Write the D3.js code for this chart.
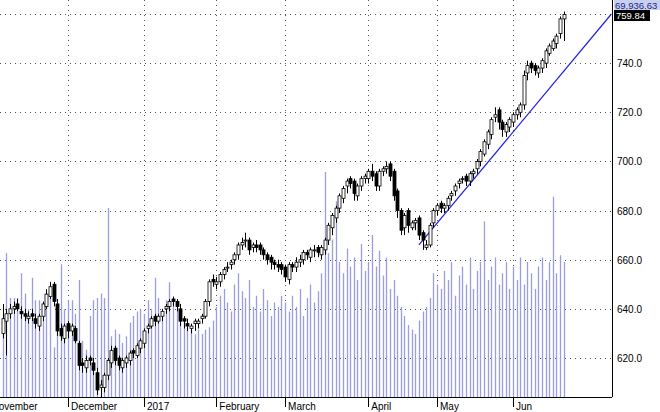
<!DOCTYPE html><html><head><meta charset="utf-8">
<script src="https://cdn.jsdelivr.net/npm/d3@7"></script>
<style>body{margin:0;background:#fff}svg{font-family:Arial,"Liberation Sans",sans-serif}</style></head><body>
<svg id="c" width="660" height="412"></svg>
<script>
const closes=[636,638,640,641,640,638,637,637,637,634,637,642,646,649,643,631,629,633,
631,633,627,617,617,619,619,615,607,609,613,619,623,619,617,619,620,622,622,625,627,
631,633,636,635,637,639,641,643,643,641,635,635,633,633,635,635,637,643,651,651,
651,654,656,657,659,662,666,667,668,664,666,665,664,662,660,659,658,657,656,
653,658,657,659,660,663,662,664,664,663,665,668,674,678,681,686,689,692,691,687,690,693,694,
696,694,690,696,697,698,694,686,680,672,678,674,675,676,670,668,666,674,680,
682,681,682,685,687,690,692,693,692,695,696,700,704,708,712,717,719,716,713,715,717,
719,721,723,735,739,738,737,738,741,745,747,749,751,758,759.84];
const opens=[630,635,638,640,642,639,638,636,638,636,633,637,641,645,650,642,632,628,
634,631,632,626,618,616,620,618,614,608,608,613,618,624,620,616,618,619,623,621,624,
626,632,633,637,635,637,640,641,644,643,640,636,634,632,634,634,636,637,643,652,
650,651,654,657,658,660,662,666,668,668,665,666,666,664,662,661,659,658,658,
657,652,658,657,659,660,663,661,664,665,662,664,668,673,677,681,685,690,693,692,686,690,693,
693,696,695,690,696,697,699,696,688,680,673,680,673,675,677,671,665,666,675,
680,683,681,682,686,688,691,693,694,692,695,697,700,703,707,711,718,721,716,712,714,
716,719,720,723,736,740,739,736,738,740,744,746,748,752,758];
const highs=[642,640,642,643,644,641,640,639,640,638,638,643,648,651,651,644,634,634,
635,634,633,627,620,621,621,620,616,611,614,620,625,625,621,620,621,623,624,626,628,
632,634,637,638,638,640,642,644,645,644,642,637,636,634,636,636,638,644,652,654,
653,655,657,659,660,663,667,669,671,669,667,668,667,665,663,662,660,660,659,
658,659,659,661,662,664,664,665,666,666,666,669,675,679,682,687,690,693,694,693,691,694,695,
697,699,696,697,698,700,700,697,689,681,679,681,676,677,678,672,668,675,681,
683,684,683,686,688,691,693,694,695,696,697,701,705,709,713,718,722,722,717,716,718,
720,722,724,737,741,741,740,739,742,746,748,750,752,759,761];
const lows=[628,621,636,638,639,636,635,634,635,632,631,635,640,644,641,629,627,626,
628,629,626,615,614,614,617,613,605,604,606,611,616,617,615,614,616,617,620,620,622,
624,630,632,633,634,635,638,639,641,639,633,632,631,630,631,632,634,636,641,649,
648,649,652,655,656,658,660,664,665,662,663,663,662,660,658,656,656,655,654,
651,650,655,655,657,658,660,659,661,661,660,662,666,670,675,679,683,687,689,684,684,688,691,
691,692,688,688,694,695,692,684,677,670,670,671,672,672,668,664,664,665,673,
678,679,679,680,684,686,689,691,690,690,693,695,698,702,705,709,716,713,710,710,712,
714,717,718,721,733,736,735,734,736,738,743,745,746,750,749];
const volumes=[30,64,44,44,44,55,46,39,53,43,43,37,44,44,22,34,59,39,
43,43,37,52,25,21,36,43,44,46,44,84,27,30,28,24,27,33,36,38,39,
37,43,39,53,44,37,43,51,44,39,33,36,31,30,28,30,28,30,31,34,
40,45,48,42,38,50,55,47,44,52,40,45,38,48,43,36,42,40,45,
42,38,45,40,48,36,44,50,42,47,55,100,64,70,87,60,55,66,58,62,52,68,56,
60,72,58,65,54,62,48,52,45,40,36,32,30,28,34,38,40,44,55,
50,48,56,52,60,45,54,58,50,62,48,56,60,78,52,58,62,50,55,60,48,
58,52,62,50,60,55,48,58,62,52,60,89,55,63,60];
const monthLabels=["November","December","2017","February","March","April","May","Jun"];
const monthStart=[-4,18,39,59,78,101,120,141];
const priceTicks=[620,640,660,680,700,720,740,760];
const trend=[{i:115,p:666},{i:168.2,p:760}];
const lastLabel="759.84", volLabel="69,936.63";

const svg=d3.select("#c");
const n=Math.min(closes.length,opens.length,highs.length,lows.length,volumes.length);
const x=d3.scaleLinear().domain([18,141]).range([68,513]);
const y=d3.scaleLinear().domain([620,760]).range([358,14]);
const v=d3.scaleLinear().domain([0,100]).range([397,172]);
const R=612,B=397;
const g=svg.append("g");
g.append("clipPath").attr("id","cp").append("rect").attr("x",0).attr("y",0).attr("width",R).attr("height",B);
const p=g.append("g").attr("clip-path","url(#cp)");
p.selectAll(".hg").data(priceTicks).join("line").attr("x1",0).attr("x2",R)
 .attr("y1",d=>Math.round(y(d))+.5).attr("y2",d=>Math.round(y(d))+.5)
 .attr("stroke","#555").attr("stroke-dasharray","1,4");
p.selectAll(".vg").data(monthStart).join("line").attr("y1",0).attr("y2",B)
 .attr("x1",d=>Math.round(x(d))+.5).attr("x2",d=>Math.round(x(d))+.5)
 .attr("stroke","#555").attr("stroke-dasharray","1,4");
const idx=d3.range(n);
p.selectAll(".vol").data(idx).join("line")
 .attr("x1",i=>Math.round(x(i))+.5).attr("x2",i=>Math.round(x(i))+.5)
 .attr("y1",B).attr("y2",i=>v(volumes[i])).attr("stroke","#9c9ce0").attr("stroke-width",1.3);
p.append("line").attr("x1",x(trend[0].i)).attr("y1",y(trend[0].p)).attr("x2",x(trend[1].i)).attr("y2",y(trend[1].p))
 .attr("stroke","#2020e0").attr("stroke-width",1.2);
const cg=p.selectAll(".c").data(idx).join("g");
cg.append("line").attr("x1",i=>Math.round(x(i))+.5).attr("x2",i=>Math.round(x(i))+.5)
 .attr("y1",i=>y(highs[i])).attr("y2",i=>y(lows[i])).attr("stroke","#000");
cg.append("rect").attr("x",i=>Math.round(x(i))-1)
 .attr("y",i=>y(Math.max(opens[i],closes[i])))
 .attr("width",3).attr("height",i=>Math.max(1,Math.abs(y(opens[i])-y(closes[i]))))
 .attr("fill",i=>closes[i]>=opens[i]?"#fff":"#000").attr("stroke","#000").attr("stroke-width",0.8);
g.append("line").attr("x1",R+.5).attr("x2",R+.5).attr("y1",0).attr("y2",B).attr("stroke","#000");
g.append("line").attr("x1",0).attr("x2",R).attr("y1",B+.5).attr("y2",B+.5).attr("stroke","#000");
g.selectAll(".yl").data(priceTicks.filter(d=>d<760)).join("text").attr("x",617).attr("y",d=>y(d)+4)
 .attr("font-size",10).attr("fill","#000").text(d=>d.toFixed(1));
g.selectAll(".xt").data(monthStart).join("line").attr("x1",d=>Math.round(x(d))+.5).attr("x2",d=>Math.round(x(d))+.5)
 .attr("y1",B).attr("y2",B+10).attr("stroke","#000");
g.selectAll(".xl").data(monthStart).join("text").attr("x",d=>x(d)+3).attr("y",410)
 .attr("font-size",10).attr("fill","#000").text((d,i)=>monthLabels[i]);
g.append("rect").attr("x",614).attr("y",0).attr("width",46).attr("height",10).attr("fill","#c8cff0");
g.append("text").attr("x",615).attr("y",8.5).attr("font-size",9.5).attr("fill","#1a2a80").text(volLabel);
g.append("rect").attr("x",614).attr("y",10).attr("width",36).attr("height",11).attr("fill","#000");
g.append("text").attr("x",616).attr("y",19).attr("font-size",9.5).attr("fill","#fff").text(lastLabel);
</script></body></html>
